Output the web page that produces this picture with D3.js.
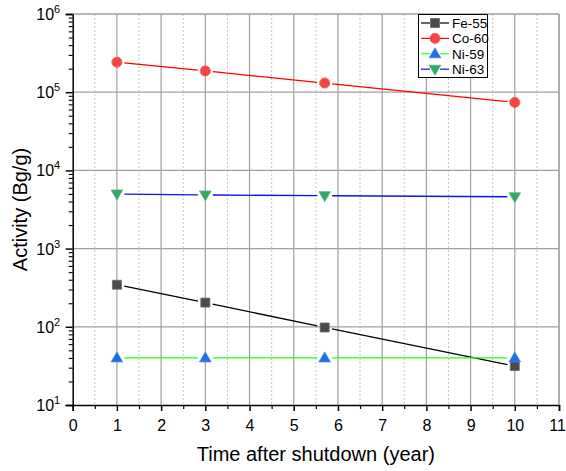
<!DOCTYPE html>
<html><head><meta charset="utf-8">
<script src="https://cdn.jsdelivr.net/npm/d3@7"></script>
<style>body{margin:0;background:#fff}svg{display:block}text{font-family:"Liberation Sans",Arial,sans-serif}</style>
</head><body>
<svg id="c" width="566" height="471"></svg>
<script>
const years = [1, 3, 5.7, 10];
const fe55 = [345, 204, 98, 31.5];
const co60 = [242000, 187000, 131000, 74000];
const ni59 = [40, 40, 40, 40];
const ni63 = [5000, 4850, 4750, 4600];
const xTicks = [0,1,2,3,4,5,6,7,8,9,10,11];
const yExps = [1,2,3,4,5,6];

const series = [
  {name:"Fe-55", values:fe55, line:"#000000", fill:"#4a4a4a", stroke:"#6a6a6a", sym:"square"},
  {name:"Co-60", values:co60, line:"#ff0000", fill:"#f24444", stroke:"#f46a6a", sym:"circle"},
  {name:"Ni-59", values:ni59, line:"#22ff22", fill:"#1f6fe3", stroke:"#4a8ae8", sym:"up"},
  {name:"Ni-63", values:ni63, line:"#1010f0", fill:"#35a565", stroke:"#5ab882", sym:"down"}
];

const L=72.7, R=559, T=14, B=405;
const svg = d3.select("#c");
const x = d3.scaleLinear().domain([0,11]).range([L,R]);
const y = d3.scaleLog().domain([10,1e6]).range([B,T]);

// minor vertical grid (dotted)
const minorX = d3.range(0.5, 11, 1);
svg.append("g").selectAll("line").data(minorX).join("line")
  .attr("x1",d=>x(d)).attr("x2",d=>x(d)).attr("y1",T).attr("y2",B)
  .attr("stroke","#c8c8c8").attr("stroke-width",1).attr("stroke-dasharray","2,2");
// major vertical grid
svg.append("g").selectAll("line").data(xTicks.slice(1)).join("line")
  .attr("x1",d=>x(d)).attr("x2",d=>x(d)).attr("y1",T).attr("y2",B)
  .attr("stroke","#a0a0a0").attr("stroke-width",1.2);
// major horizontal grid
svg.append("g").selectAll("line").data(yExps.slice(1)).join("line")
  .attr("x1",L).attr("x2",R).attr("y1",d=>y(Math.pow(10,d))).attr("y2",d=>y(Math.pow(10,d)))
  .attr("stroke","#a0a0a0").attr("stroke-width",1.2);

// axes
const xAxis = d3.axisBottom(x).tickValues(xTicks).tickSize(6).tickFormat(d3.format("d"));
const gx = svg.append("g").attr("transform",`translate(0,${B})`).call(xAxis);
gx.select(".domain").attr("stroke","#000").attr("stroke-width",1.5);
gx.selectAll(".tick line").attr("stroke","#000").attr("stroke-width",1.5);
gx.selectAll(".tick text").attr("font-size",16).attr("fill","#000").attr("dy","1.05em").attr("font-family",'"Liberation Sans",Arial,sans-serif')
  .attr("dx",d=>d===11?-2:0);
const gxm = svg.append("g").attr("transform",`translate(0,${B})`).call(d3.axisBottom(x).tickValues(minorX).tickSize(4).tickFormat(""));
gxm.select(".domain").remove();
gxm.selectAll(".tick line").attr("stroke","#000").attr("stroke-width",1.2);

const yMajor = yExps.map(e=>Math.pow(10,e));
const yMinor = [];
for (let e=1;e<6;e++) for (let k=2;k<=9;k++) yMinor.push(k*Math.pow(10,e));
const gy = svg.append("g").attr("transform",`translate(${L},0)`).call(d3.axisLeft(y).tickValues(yMajor).tickSize(7).tickFormat(""));
gy.select(".domain").attr("stroke","#000").attr("stroke-width",1.5);
gy.selectAll(".tick line").attr("stroke","#000").attr("stroke-width",1.5);
const gym = svg.append("g").attr("transform",`translate(${L},0)`).call(d3.axisLeft(y).tickValues(yMinor).tickSize(4).tickFormat(""));
gym.select(".domain").remove();
gym.selectAll(".tick line").attr("stroke","#000").attr("stroke-width",1.1);

// y labels with superscripts
const yl = svg.append("g").selectAll("text").data(yExps).join("text")
  .attr("x",L-12.5).attr("y",d=>y(Math.pow(10,d))+6)
  .attr("text-anchor","end").attr("font-size",16).attr("fill","#000");
yl.append("tspan").text("10");
yl.append("tspan").attr("font-size",11).attr("dy",-7).text(d=>d);

// top/right border
svg.append("line").attr("x1",L).attr("x2",R).attr("y1",T).attr("y2",T).attr("stroke","#a0a0a0").attr("stroke-width",1.2);
svg.append("line").attr("x1",R).attr("x2",R).attr("y1",T).attr("y2",B).attr("stroke","#a0a0a0").attr("stroke-width",1.2);

// axis titles
svg.append("text").attr("x",(L+R)/2).attr("y",461).attr("text-anchor","middle").attr("font-size",20).text("Time after shutdown (year)");
svg.append("text").attr("transform",`translate(27,${(T+B)/2}) rotate(-90)`).attr("text-anchor","middle").attr("font-size",20).text("Activity (Bg/g)");

function drawSym(g, sym, cx, cy){
  const sel = g.append("path");
  let d;
  if (sym==="square") d = d3.symbol(d3.symbolSquare, 81)();
  else if (sym==="circle") d = d3.symbol(d3.symbolCircle, 82)();
  else if (sym==="up") d = "M0,-6L5.8,4L-5.8,4Z";
  else d = "M0,6L5.8,-4L-5.8,-4Z";
  sel.attr("d",d).attr("transform",`translate(${cx},${cy})`);
  return sel;
}

// lines with gaps around markers
const gap = 7.5;
series.forEach(s=>{
  const pts = years.map((yr,i)=>[x(yr), y(s.values[i])]);
  const g = svg.append("g");
  for (let i=0;i<pts.length-1;i++){
    const [x1,y1]=pts[i],[x2,y2]=pts[i+1];
    const len=Math.hypot(x2-x1,y2-y1), ux=(x2-x1)/len, uy=(y2-y1)/len;
    g.append("line").attr("x1",x1+ux*gap).attr("y1",y1+uy*gap).attr("x2",x2-ux*gap).attr("y2",y2-uy*gap)
      .attr("stroke",s.line).attr("stroke-width",1.3);
  }
});
series.forEach(s=>{
  const g = svg.append("g");
  years.forEach((yr,i)=>{
    drawSym(g, s.sym, x(yr), y(s.values[i])).attr("fill",s.fill).attr("stroke",s.stroke).attr("stroke-width",0.8);
  });
});

// legend
const lg = svg.append("g");
lg.append("rect").attr("x",418.5).attr("y",14.5).attr("width",69).attr("height",63).attr("fill","#fff").attr("stroke","#000").attr("stroke-width",1);
series.forEach((s,i)=>{
  const cy = 23 + i*15.4;
  lg.append("line").attr("x1",421).attr("x2",430).attr("y1",cy).attr("y2",cy).attr("stroke",s.line).attr("stroke-width",1.2);
  lg.append("line").attr("x1",440).attr("x2",449).attr("y1",cy).attr("y2",cy).attr("stroke",s.line).attr("stroke-width",1.2);
  drawSym(lg, s.sym, 435, cy).attr("fill",s.fill).attr("stroke",s.stroke).attr("stroke-width",0.8);
  lg.append("text").attr("x",452).attr("y",cy+4.8).attr("font-size",13.5).text(s.name);
});
</script>
</body></html>
